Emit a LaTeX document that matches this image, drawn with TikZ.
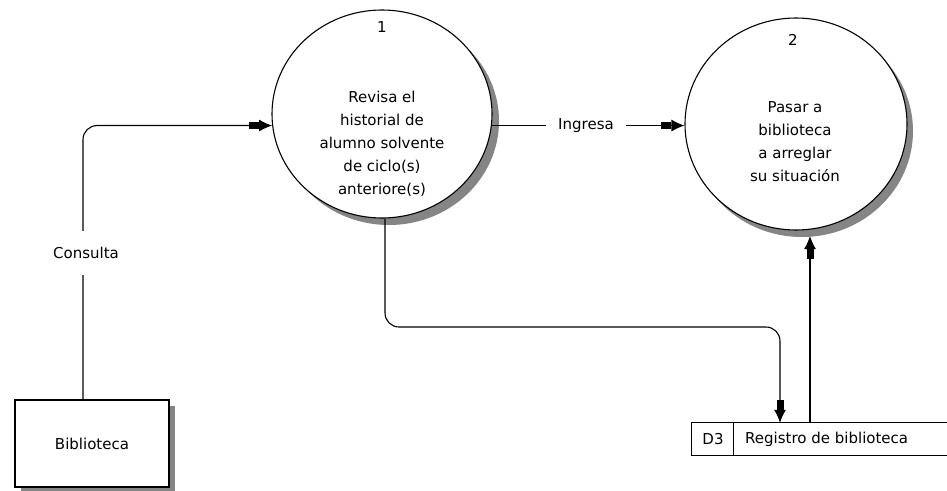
\documentclass[tikz,border=0pt]{standalone}
\usepackage{fontspec}
\setmainfont{DejaVu Sans}
\usetikzlibrary{shapes.geometric,arrows.meta}
\begin{document}
\begin{tikzpicture}[x=1pt,y=-1pt,
  proc/.style={ellipse,draw=black,line width=1.1pt,fill=white,inner sep=0pt},
  shade/.style={fill=black!48,draw=none},
  flow/.style={line width=1.1pt,-{Rectangle[length=10pt,width=7pt]Latex[length=13pt,width=12pt]}},
  plain/.style={line width=1.1pt},
  txt/.style={font=\fontsize{15}{23}\selectfont,align=center,inner sep=0pt},
  gaplbl/.style={font=\fontsize{15}{18}\selectfont,fill=white,inner sep=0pt},
]
\useasboundingbox (0,0) rectangle (947,490);
\fill[white] (0,0) rectangle (947,490);

% shadows
\fill[shade] (389,121) ellipse [x radius=110pt, y radius=104pt];
\fill[shade] (802,131) ellipse [x radius=111pt, y radius=106pt];
\fill[shade] (21,406) rectangle (175,493);

% processes
\node[proc,minimum width=220pt,minimum height=208pt] (p1) at (382,114) {};
\node[proc,minimum width=222pt,minimum height=212pt] (p2) at (796,124) {};
\node[txt] (n1) at (382,27) {1};
\node[txt] (t1) at (382,143.5) {Revisa el\\historial de\\alumno solvente\\de ciclo(s)\\anteriore(s)};
\node[txt] (n2) at (793,40) {2};
\node[txt] (t2) at (795,141.5) {Pasar a\\biblioteca\\a arreglar\\su situación};

% external entity
\node[draw=black,line width=1.1pt,fill=white,minimum width=154pt,minimum height=87pt,inner sep=0pt,font=\fontsize{15}{18}\selectfont] (bib) at (92,443.5) {Biblioteca};

% data store
\node[minimum width=255pt,minimum height=32pt,inner sep=0pt] (store) at (819.5,439) {};
\draw[plain] (store.north east) -- (store.north west) -- (store.south west) -- (store.south east);
\draw[plain] ([xshift=42pt]store.north west) -- ([xshift=42pt]store.south west);
\node[txt] (d3) at (713,439) {D3};
\node[txt,anchor=west] (reg) at (745,439) {Registro de biblioteca};

% flows
\draw[flow,rounded corners=14pt] ([xshift=-9pt]bib.north) |- (p1.186);
\draw[flow] (p1.-6) -- (p1.-6 -| p2.west);
\coordinate (b1) at (385,327);
\coordinate (b2) at (780,327);
\draw[flow,rounded corners=14pt] ([xshift=3pt]p1.south) -- (b1) -- (b2) -- ([xshift=-39.5pt]store.north);
\coordinate (s2) at (810,236);
\draw[flow] ([xshift=-9.5pt]store.north) -- (s2);

% labels on flows
\node[gaplbl,inner xsep=3pt,inner ysep=16pt] (lc) at (86,253) {Consulta};
\node[gaplbl,inner xsep=12pt,inner ysep=4pt] (li) at (586,126) {Ingresa};
\end{tikzpicture}
\end{document}
